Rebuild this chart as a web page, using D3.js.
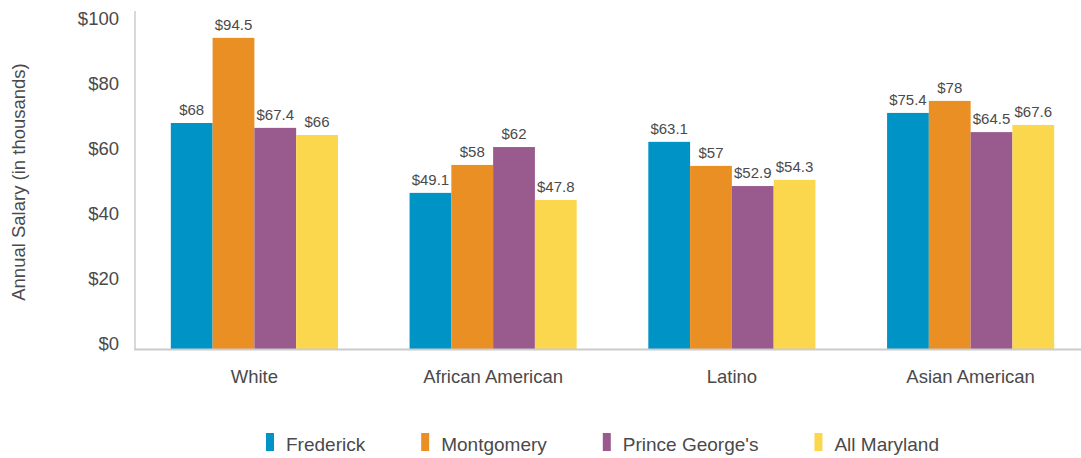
<!DOCTYPE html>
<html>
<head>
<meta charset="utf-8">
<script src="https://cdn.jsdelivr.net/npm/d3@7"></script>
<style>
  html, body { margin: 0; padding: 0; background: #fff; }
  svg { display: block; font-family: "Liberation Sans", Arial, sans-serif; }
</style>
</head>
<body>
<svg id="chart" width="1081" height="458"></svg>
<script>
const categories = ["White", "African American", "Latino", "Asian American"];
const seriesNames = ["Frederick", "Montgomery", "Prince George's", "All Maryland"];
const seriesColors = ["#0094c6", "#e98f24", "#995b8d", "#fbd74e"];
// bar heights as drawn (thousands of dollars), one array per series
const frederick   = [68.0, 46.5, 62.2, 71.1];
const montgomery  = [94.2, 55.1, 54.8, 74.8];
const princeGeorges = [66.5, 60.6, 48.6, 65.2];
const allMaryland = [64.3, 44.3, 50.5, 67.4];
// printed value labels
const frederickLabels   = ["$68", "$49.1", "$63.1", "$75.4"];
const montgomeryLabels  = ["$94.5", "$58", "$57", "$78"];
const princeGeorgesLabels = ["$67.4", "$62", "$52.9", "$64.5"];
const allMarylandLabels = ["$66", "$47.8", "$54.3", "$67.6"];
const yTicks = [0, 20, 40, 60, 80, 100];
const yTitle = "Annual Salary (in thousands)";

const seriesValues = [frederick, montgomery, princeGeorges, allMaryland];
const seriesLabels = [frederickLabels, montgomeryLabels, princeGeorgesLabels, allMarylandLabels];

const svg = d3.select("#chart");
const textColor = "#4a4a4a";
const axisColor = "#cccccc";

const x0 = d3.scaleBand().domain(categories).range([135, 1090]).paddingInner(0.3).paddingOuter(0.15);
const x1 = d3.scaleBand().domain(seriesNames).range([0, x0.bandwidth()]).padding(0);
const y = d3.scaleLinear().domain([0, 100]).range([344, 19]);
const baseY = 349;

// y tick labels
svg.append("g").selectAll("text").data(yTicks).join("text")
  .attr("x", 119).attr("y", d => y(d)).attr("dy", "0.35em")
  .attr("text-anchor", "end").attr("font-size", 18.5).attr("fill", textColor)
  .text(d => "$" + d);

// y title
svg.append("text")
  .attr("transform", `translate(25,182) rotate(-90)`)
  .attr("text-anchor", "middle").attr("font-size", 18.5).attr("fill", textColor)
  .text(yTitle);

// bars
const groups = svg.append("g").selectAll("g").data(categories).join("g")
  .attr("transform", d => `translate(${x0(d)},0)`);

groups.each(function(cat, ci) {
  const g = d3.select(this);
  seriesNames.forEach((s, si) => {
    const v = seriesValues[si][ci];
    g.append("rect")
      .attr("x", x1(s)).attr("width", x1.bandwidth())
      .attr("y", y(v)).attr("height", baseY - y(v))
      .attr("fill", seriesColors[si]);
    g.append("text")
      .attr("x", x1(s) + x1.bandwidth() / 2).attr("y", y(v) - 8)
      .attr("text-anchor", "middle").attr("font-size", 15).attr("fill", textColor)
      .text(seriesLabels[si][ci]);
  });
});

// axis lines
svg.append("line").attr("x1", 135).attr("x2", 135).attr("y1", 11).attr("y2", baseY)
  .attr("stroke", axisColor).attr("stroke-width", 1.5);
svg.append("line").attr("x1", 134).attr("x2", 1081).attr("y1", baseY + 0.5).attr("y2", baseY + 0.5)
  .attr("stroke", axisColor).attr("stroke-width", 2);

// category labels
svg.append("g").selectAll("text").data(categories).join("text")
  .attr("x", d => x0(d) + x0.bandwidth() / 2).attr("y", 383)
  .attr("text-anchor", "middle").attr("font-size", 18.5).attr("fill", textColor)
  .text(d => d);

// legend
const legend = svg.append("g");
let lx = 266;
seriesNames.forEach((s, i) => {
  legend.append("rect").attr("x", lx).attr("y", 433).attr("width", 8).attr("height", 18)
    .attr("fill", seriesColors[i]);
  const t = legend.append("text").attr("x", lx + 20).attr("y", 450.5)
    .attr("font-size", 19).attr("fill", textColor).text(s);
  const w = t.node().getComputedTextLength();
  lx = lx + 20 + w + 56;
});
</script>
</body>
</html>
